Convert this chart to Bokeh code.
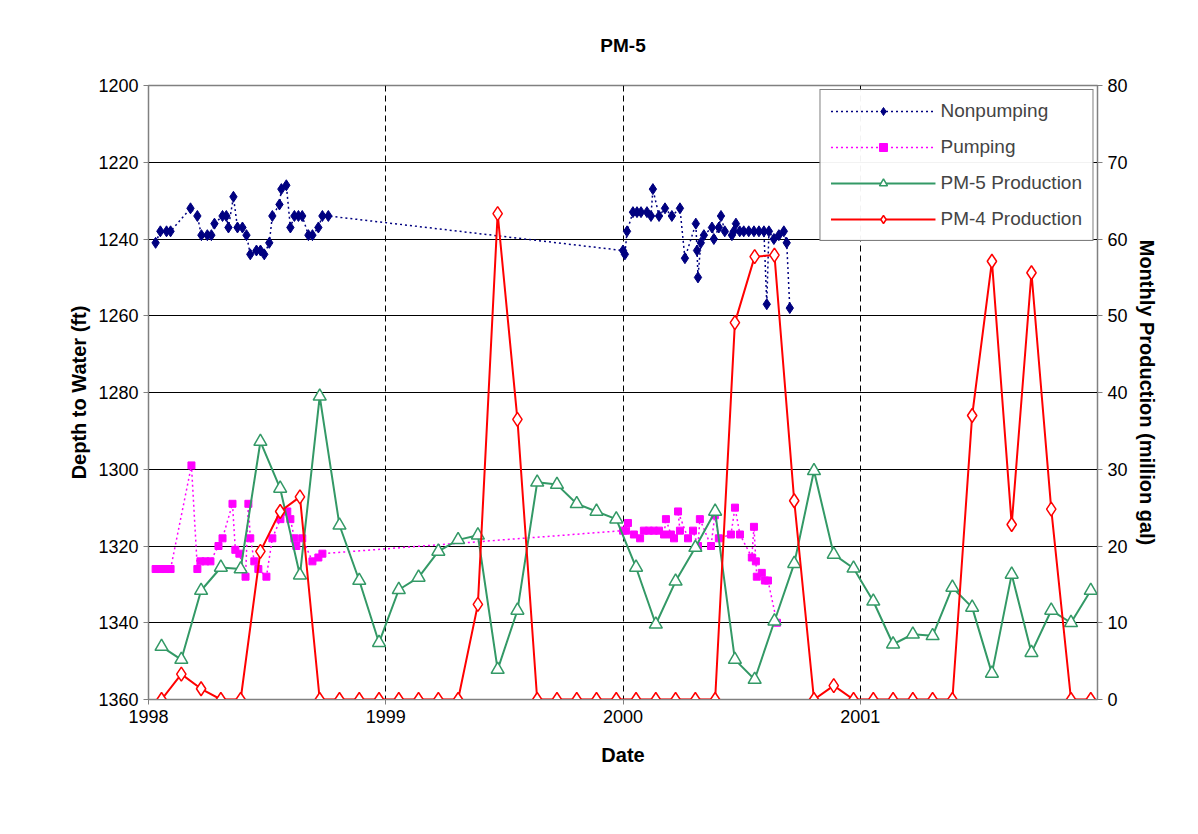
from bokeh.plotting import figure
from bokeh.models import Range1d, LinearAxis, FixedTicker, Legend, LegendItem, CustomJSTickFormatter
from bokeh.embed import file_html
from bokeh.resources import INLINE

# Nonpumping depth (decimal year, ft)
np_t = [1998.03,1998.05,1998.076,1998.093,1998.177,1998.206,1998.223,1998.248,1998.265,1998.278,1998.312,1998.328,1998.337,1998.358,1998.375,1998.396,1998.413,1998.429,1998.455,1998.472,1998.488,1998.509,1998.522,1998.552,1998.56,1998.581,1998.598,1998.615,1998.632,1998.648,1998.674,1998.691,1998.716,1998.733,1998.758,
        2000.0,2000.008,2000.017,2000.042,2000.059,2000.076,2000.101,2000.118,2000.126,2000.152,2000.177,2000.206,2000.24,2000.261,2000.307,2000.312,2000.316,2000.328,2000.341,2000.375,2000.383,2000.404,2000.413,2000.429,2000.459,2000.467,2000.476,2000.492,2000.509,2000.53,2000.552,2000.573,2000.594,2000.606,2000.615,2000.636,2000.657,2000.678,2000.69,2000.703]
np_d = [1241,1238,1238,1238,1232,1234,1239,1239,1239,1236,1234,1234,1237,1229,1237,1237,1239,1244,1243,1243,1244,1241,1234,1231,1227,1226,1237,1234,1234,1234,1239,1239,1237,1234,1234,
        1243,1244,1238,1233,1233,1233,1233,1234,1227,1234,1232,1234,1232,1245,1236,1243,1250,1241,1239,1237,1240,1237,1234,1238,1239,1238,1236,1238,1238,1238,1238,1238,1238,1257,1238,1240,1239,1238,1241,1258]

# Pumping depth
pu_t = [1998.03,1998.05,1998.072,1998.093,1998.181,1998.206,1998.219,1998.24,1998.261,1998.295,1998.312,1998.354,1998.366,1998.383,1998.409,1998.421,1998.429,1998.446,1998.463,1998.497,1998.522,1998.556,1998.585,1998.598,1998.615,1998.623,1998.648,1998.691,1998.716,1998.733,
        2000.0,2000.021,2000.013,2000.046,2000.072,2000.088,2000.109,2000.13,2000.152,2000.173,2000.181,2000.202,2000.215,2000.24,2000.232,2000.274,2000.295,2000.316,2000.324,2000.371,2000.387,2000.404,2000.455,2000.472,2000.493,2000.543,2000.552,2000.56,2000.564,2000.585,2000.598,2000.611,2000.649]
pu_d = [1326,1326,1326,1326,1299,1326,1324,1324,1324,1320,1318,1309,1321,1322,1328,1309,1318,1324,1326,1328,1318,1313,1311,1313,1318,1320,1318,1324,1323,1322,
        1316,1314,1316,1317,1318,1316,1316,1316,1316,1317,1313,1317,1318,1316,1311,1318,1316,1320,1313,1320,1312,1318,1317,1310,1317,1323,1315,1324,1328,1327,1329,1329,1340]

months = [f"{y}-{m:02d}" for y in (1998, 1999, 2000, 2001) for m in range(1, 13)]
pm5 = [6.9,5.2,14.2,17.2,17.0,33.6,27.5,16.2,39.5,22.7,15.5,7.4,
       14.3,15.9,19.3,20.8,21.4,3.9,11.6,28.3,28.0,25.5,24.5,23.5,
       17.2,9.8,15.4,19.8,24.5,5.2,2.6,10.2,17.7,29.8,18.9,17.1,
       12.8,7.2,8.5,8.3,14.6,12.0,3.4,16.3,6.1,11.6,10.0,14.2]
pm4 = [0,3.3,1.4,0,0,19.3,24.5,26.4,0,0,0,0,
       0,0,0,0,12.4,63.3,36.5,0,0,0,0,0,
       0,0,0,0,0,49.1,57.7,57.9,25.9,0,1.8,0,
       0,0,0,0,0,37.0,57.1,22.8,55.6,24.8,0,0]
mt = [int(s[:4]) + (int(s[5:]) - 1 + 0.66) / 12 for s in months]

p = figure(frame_width=949, frame_height=614, output_backend="svg", toolbar_location=None,
           x_range=Range1d(1998, 2002), y_range=Range1d(1360, 1200),
           title="PM-5", min_border_left=148, min_border_right=85,
           min_border_top=85, min_border_bottom=110)
p.title.align = "center"
p.title.text_font = "Liberation Sans"
p.title.text_font_size = "19px"
p.title.text_font_style = "bold"
p.title.text_color = "black"
p.title.standoff = 60
p.extra_y_ranges = {"prod": Range1d(0, 80)}
p.outline_line_color = "#808080"
p.outline_line_width = 1.5

p.xaxis.ticker = FixedTicker(ticks=[1998, 1999, 2000, 2001])
p.xaxis.formatter = CustomJSTickFormatter(code="return String(Math.round(tick));")
p.yaxis.ticker = FixedTicker(ticks=list(range(1200, 1361, 20)))
p.xaxis.axis_label = "Date"
p.yaxis.axis_label = "Depth to Water (ft)"
ra = LinearAxis(y_range_name="prod", axis_label="Monthly Production (million gal)",
                ticker=FixedTicker(ticks=list(range(0, 81, 10))))
p.add_layout(ra, "right")
for ax in [p.xaxis[0], p.yaxis[0], ra]:
    ax.major_label_text_font = "Liberation Sans"
    ax.major_label_text_font_size = "18px"
    ax.major_label_text_color = "black"
    ax.axis_label_text_font = "Liberation Sans"
    ax.axis_label_text_font_size = "20px"
    ax.axis_label_text_font_style = "bold"
    ax.axis_label_text_color = "black"
    ax.minor_tick_line_color = None
    ax.axis_line_color = "#808080"
    ax.major_tick_line_color = "#808080"
    ax.major_tick_in = 0
    ax.major_tick_out = 5
p.xaxis.axis_label_standoff = 18

p.ygrid.grid_line_color = "black"
p.ygrid.grid_line_width = 1
p.xgrid.grid_line_color = "black"
p.xgrid.grid_line_dash = "6 4"
p.xgrid.grid_line_width = 1

l1 = p.line(np_t, np_d, line_color="#000080", line_dash="2 3", line_width=1.5)
s1 = p.scatter(np_t, np_d, marker="diamond", size=11, color="#000080")
l2 = p.line(pu_t, pu_d, line_color="#FF00FF", line_dash="2 3", line_width=1.5)
s2 = p.scatter(pu_t, pu_d, marker="square", size=7, color="#FF00FF")
l3 = p.line(mt, pm5, y_range_name="prod", line_color="#339966", line_width=2)
s3 = p.scatter(mt, pm5, y_range_name="prod", marker="triangle", size=13,
               fill_color="white", line_color="#339966", line_width=1.5)
l4 = p.line(mt, pm4, y_range_name="prod", line_color="#FF0000", line_width=2)
s4 = p.scatter(mt, pm4, y_range_name="prod", marker="diamond", size=14,
               fill_color="white", line_color="#FF0000", line_width=1.5)

leg = Legend(items=[LegendItem(label="Nonpumping", renderers=[l1, s1]),
                    LegendItem(label="Pumping", renderers=[l2, s2]),
                    LegendItem(label="PM-5 Production", renderers=[l3, s3]),
                    LegendItem(label="PM-4 Production", renderers=[l4, s4])],
             location="top_right", label_text_font="Liberation Sans", label_text_font_size="19px",
             border_line_color="black", border_line_width=1, spacing=14, glyph_width=105,
             margin=4, padding=10)
p.add_layout(leg)

open("out.html", "w").write(file_html(p, INLINE))
